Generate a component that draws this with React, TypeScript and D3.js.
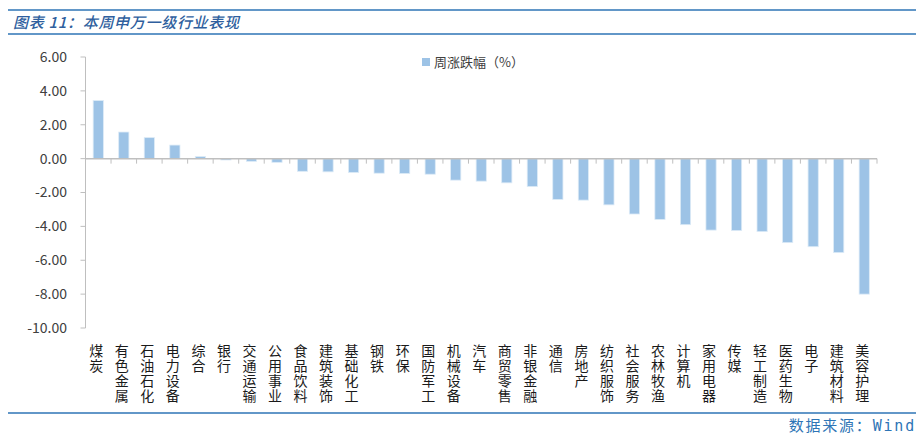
import React from "react";
import * as d3 from "d3";

const categories = [
  "煤炭", "有色金属", "石油石化", "电力设备", "综合", "银行", "交通运输", "公用事业",
  "食品饮料", "建筑装饰", "基础化工", "钢铁", "环保", "国防军工", "机械设备", "汽车",
  "商贸零售", "非银金融", "通信", "房地产", "纺织服饰", "社会服务", "农林牧渔", "计算机",
  "家用电器", "传媒", "轻工制造", "医药生物", "电子", "建筑材料", "美容护理",
];
const weeklyChange = [
  3.43, 1.57, 1.24, 0.8, 0.12, -0.08, -0.16, -0.22,
  -0.75, -0.78, -0.82, -0.86, -0.88, -0.92, -1.27, -1.33,
  -1.43, -1.65, -2.41, -2.45, -2.73, -3.27, -3.59, -3.9,
  -4.22, -4.25, -4.31, -4.96, -5.2, -5.55, -8.0,
];
const yTicks = [6, 4, 2, 0, -2, -4, -6, -8, -10];
const titleText = "图表 11：本周申万一级行业表现";
const legendText = "周涨跌幅（%）";
const sourceText = "数据来源：Wind";

const W = 923;
const H = 438;
const font = "'Noto Sans CJK SC', 'Liberation Sans', sans-serif";

export default function App() {
  const x = d3.scaleBand<string>().domain(categories).range([85.5, 877]).paddingInner(0.6).paddingOuter(0.3);
  const y = d3.scaleLinear().domain([-10, 6]).range([328, 57]);
  const step = x.step();
  const y0 = y(0);
  const axisColor = "#BFBFBF";
  const textColor = "#404040";
  const barColor = "#9DC3E6";
  const ax = 85.5;

  return (
    <div style={{ position: "absolute", left: 0, top: 0 }}>
      <svg width={W} height={H} style={{ display: "block", background: "#fff" }}>
        {/* title */}
        <line x1={8} x2={916} y1={10} y2={10} stroke="#2E75B6" strokeWidth={1.5} />
        <line x1={8} x2={916} y1={34} y2={34} stroke="#2E75B6" strokeWidth={1.5} />
        <text x={13} y={27.5} fontFamily={font} fontSize={15} fontStyle="italic" fontWeight={500} fill="#2F5F9E" letterSpacing={0.7}>
          {titleText}
        </text>

        {/* legend */}
        <rect x={422} y={58} width={8} height={8} fill={barColor} />
        <text x={434} y={67} fontFamily={font} fontSize={13} fill={textColor}>
          {legendText}
        </text>

        {/* y axis */}
        <line x1={ax} x2={ax} y1={y(6)} y2={y(-10)} stroke={axisColor} strokeWidth={1} />
        {yTicks.map((t) => (
          <g key={t}>
            <line x1={ax - 5} x2={ax} y1={y(t)} y2={y(t)} stroke={axisColor} strokeWidth={1} />
            <text x={67} y={y(t)} dy="0.35em" textAnchor="end" fontFamily={font} fontSize={14} fill={textColor}>
              {t.toFixed(2)}
            </text>
          </g>
        ))}

        {/* bars */}
        {categories.map((c, i) => {
          const v = weeklyChange[i];
          const top = Math.min(y(v), y0);
          const h = Math.abs(y(v) - y0);
          return (
            <rect
              key={c}
              x={x(c)!}
              y={top}
              width={x.bandwidth()}
              height={h}
              fill={barColor}
              stroke="#DDEBF7"
              strokeWidth={0.8}
            />
          );
        })}

        {/* zero axis */}
        <line x1={ax} x2={877} y1={y0} y2={y0} stroke={axisColor} strokeWidth={1.5} />
        {categories.map((c, i) => {
          const tx = x(c)! - (step - x.bandwidth()) / 2 + step;
          return <line key={"t" + i} x1={tx} x2={tx} y1={y0} y2={y0 + 5} stroke={axisColor} strokeWidth={1} />;
        })}

        {/* x labels (vertical text) */}
        {categories.map((c) => {
          const cx = x(c)! + x.bandwidth() / 2 - 2;
          return (
            <text
              key={"l" + c}
              x={cx}
              y={344}
              fontFamily={font}
              fontSize={14}
              fill="#1a1a1a"
              letterSpacing={1}
              style={{ writingMode: "vertical-rl", textOrientation: "upright" } as React.CSSProperties}
            >
              {c}
            </text>
          );
        })}

        {/* footer */}
        <line x1={8} x2={916} y1={413} y2={413} stroke="#2E75B6" strokeWidth={1.5} />
        <text x={916} y={431} textAnchor="end" fontFamily="'DejaVu Sans Mono', 'Noto Sans CJK SC', monospace" fontSize={15} fill="#2E75B6" letterSpacing={1.8}>
          {sourceText}
        </text>
      </svg>
    </div>
  );
}
